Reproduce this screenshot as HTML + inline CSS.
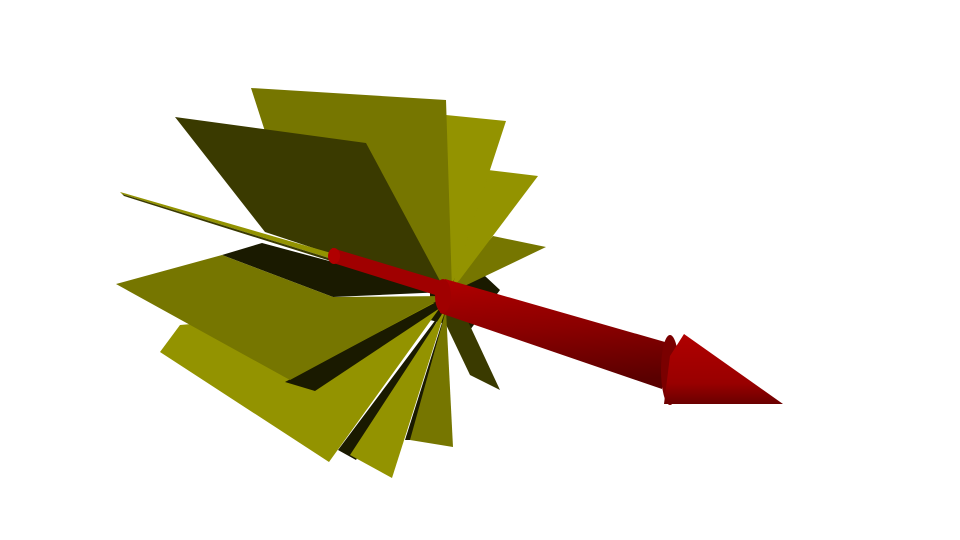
<!DOCTYPE html>
<html><head><meta charset="utf-8"><style>html,body{margin:0;padding:0;background:#fff}svg{display:block}</style></head>
<body>
<svg width="960" height="540" viewBox="0 0 960 540">
<defs>
<linearGradient id="shaft" x1="0" y1="0" x2="0.12" y2="1">
<stop offset="0" stop-color="#b00000"/><stop offset="0.5" stop-color="#8a0000"/><stop offset="1" stop-color="#5a0000"/>
</linearGradient>
<linearGradient id="cone" x1="0" y1="0" x2="0" y2="1">
<stop offset="0" stop-color="#b00000"/><stop offset="0.7" stop-color="#990000"/><stop offset="1" stop-color="#6a0000"/>
</linearGradient>
</defs>
<g>
<polygon points="430,270 470,262 500,290 470,330 430,320" fill="#1a1a00"/>
<polygon points="493,236 546,247 452,292 470,262" fill="#767600"/>
<polygon points="484,172 494,172 456,288" fill="#1a1a00"/>
<polygon points="488,170 538,176 452,290 462,240" fill="#939300"/>
<polygon points="446,115 506,121 450,292 440,200" fill="#939300"/>
<polygon points="251,88 446,100 452,290 300,240" fill="#767600"/>
<polygon points="175,117 366,143 446,292 265,232" fill="#3a3a00"/>
<polygon points="440,312 465,315 500,390 470,375" fill="#3a3a00"/>
</g>
<g>
<polygon points="222,255 262,243 445,292 333,297" fill="#1a1a00"/>
<polygon points="120,192 442,285 442,293 122,194" fill="#939300"/>
<polygon points="122,194 442,293 442,296 124,196" fill="#3a3a00"/>
<polygon points="160,352 180,325 444,302 329,462" fill="#939300"/>
<polygon points="285,382 315,391 446,304 440,300" fill="#1a1a00"/>
<polygon points="116,284 222,255 333,297 446,296 290,380" fill="#767600"/>
<polygon points="338,450 446,306 356,460" fill="#1a1a00"/>
<polygon points="350,455 446,308 392,478" fill="#939300"/>
<polygon points="405,440 446,310 418,440" fill="#1a1a00"/>
<polygon points="410,440 446,310 453,447" fill="#767600"/>
</g>
<g>
<polygon points="332,248 445,282 445,298 330,262" fill="#a00000"/>
<ellipse cx="334" cy="256" rx="6" ry="8" fill="#b00000"/>
<polygon points="445,279 672,344 662,389 440,313" fill="url(#shaft)"/>
<ellipse cx="443" cy="296" rx="8" ry="17" fill="#a00000"/>
<ellipse cx="670" cy="370" rx="9" ry="35" fill="#7a0000"/>
<polygon points="684,334 783,404 664,404 670,356" fill="url(#cone)"/>
</g>
</svg>
</body></html>
